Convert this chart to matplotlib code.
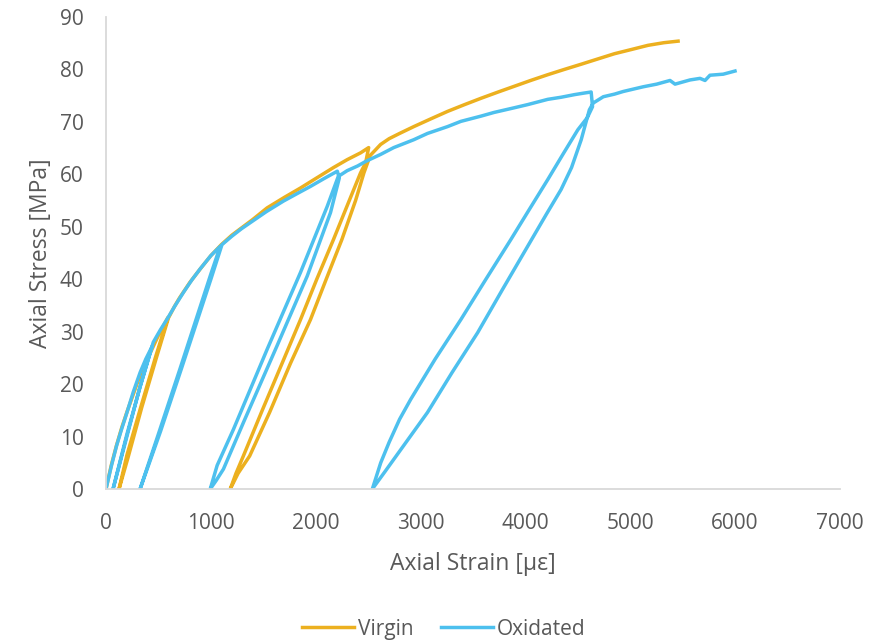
import matplotlib
matplotlib.use("Agg")
import matplotlib.pyplot as plt

# strain in micro-strain, stress in MPa
virgin_strain = [
    0, 50, 100, 150, 200, 300, 400, 500, 590,
    470, 330, 200, 124,
    210, 340, 480, 595,
    650, 700, 800, 900, 1000, 1100, 1200, 1300, 1400, 1536, 1700, 1855, 2000,
    2170, 2300, 2428, 2505,
    2476, 2428, 2320, 2170, 2010, 1855, 1680, 1490, 1310, 1240, 1185,
    1260, 1370, 1560, 1760, 1950, 2100, 2250, 2380, 2460, 2520,
    2619, 2700, 2800, 2935, 3100, 3257, 3420, 3576, 3740, 3895, 4050, 4213,
    4370, 4532, 4690, 4849, 5010, 5169, 5320, 5456,
]
virgin_stress = [
    0, 4.5, 8.3, 11.7, 14.7, 20.3, 25.0, 29.3, 32.7,
    25.0, 15.5, 6.5, 0,
    6.0, 15.5, 25.0, 32.6,
    34.7, 36.4, 39.4, 42.0, 44.5, 46.6, 48.4, 49.9, 51.4, 53.6, 55.6, 57.4, 59.2,
    61.3, 62.8, 64.1, 65.1,
    62.2, 60.3, 55.0, 47.6, 40.0, 32.3, 24.0, 15.0, 6.3, 3.0, 0,
    3.0, 6.3, 14.6, 24.0, 32.3, 40.0, 47.6, 55.0, 60.3, 63.6,
    65.7, 66.8, 67.8, 69.1, 70.6, 72.0, 73.3, 74.5, 75.7, 76.8, 77.9, 79.0,
    80.0, 81.0, 82.0, 83.0, 83.8, 84.6, 85.1, 85.4,
]

oxidated_strain = [
    0, 50, 100, 150, 200, 260, 325, 380, 440,
    330, 200, 67,
    190, 320, 451,
    520, 580, 660, 739, 820, 899, 1000, 1090,
    1000, 707, 500, 325,
    520, 720, 1000, 1106,
    1200, 1290, 1377, 1530, 1692, 1820, 1950, 2080, 2206,
    2225, 2141, 1919, 1631, 1311, 1120, 1050, 994,
    1060, 1216, 1536, 1855, 2110, 2215,
    2300, 2400, 2480, 2619, 2744, 2935, 3066, 3257, 3384, 3576, 3700,
    3895, 4022, 4213, 4340, 4468, 4560, 4627,
    4640, 4590, 4500, 4360, 4213, 4040, 3862, 3620, 3384, 3140, 2906,
    2800, 2700, 2620, 2540,
    2660, 2800, 3066, 3300, 3544, 3780, 4022, 4200, 4340, 4440, 4532, 4610, 4647,
    4743, 4850, 4933, 5124, 5252, 5379, 5427, 5570, 5665, 5713, 5760,
    5887, 5999,
]
oxidated_stress = [
    0, 4.3, 8.2, 11.5, 14.6, 18.5, 22.2, 24.8, 27.2,
    19.8, 10.5, 0,
    9.3, 19.2, 28.0,
    30.4, 32.3, 35.0, 37.5, 39.9, 42.0, 44.5, 46.3,
    41.0, 23.0, 10.5, 0,
    11.0, 23.0, 40.0, 46.6,
    48.2, 49.6, 50.8, 52.9, 54.9, 56.3, 57.7, 59.2, 60.6,
    59.3, 52.7, 40.6, 27.3, 12.7, 3.8, 1.6, 0,
    4.5, 11.4, 26.6, 41.3, 53.9, 59.6,
    60.7, 61.6, 62.5, 63.8, 65.1, 66.6, 67.8, 69.1, 70.1, 71.1, 71.8,
    72.7, 73.3, 74.3, 74.7, 75.2, 75.5, 75.7,
    72.9, 70.8, 68.5, 63.9, 59.0, 53.4, 47.6, 39.9, 32.3, 24.8, 17.1,
    13.3, 8.9, 5.0, 0,
    3.3, 7.2, 14.6, 22.2, 29.8, 38.0, 46.3, 52.4, 57.1, 61.3, 66.6, 72.3, 73.6,
    74.8, 75.3, 75.8, 76.7, 77.2, 77.9, 77.2, 78.0, 78.3, 77.9, 78.9,
    79.1, 79.7,
]

series_labels = ["Virgin", "Oxidated"]

plt.rcParams["font.family"] = ["Open Sans", "DejaVu Sans"]

fig = plt.figure(figsize=(8.79, 6.42), dpi=100)
ax = fig.add_axes([0.1206, 0.2383, 0.8350, 0.7352])

colors = ["#ECB01F", "#4DC0EE"]
ax.plot(virgin_strain, virgin_stress, color=colors[0], lw=2.5, label=series_labels[0],
        solid_joinstyle="round")
ax.plot(oxidated_strain, oxidated_stress, color=colors[1], lw=2.5, label=series_labels[1],
        solid_joinstyle="round")

ax.set_xlim(0, 7000)
ax.set_ylim(0, 90)
ax.set_xticks(range(0, 7001, 1000))
ax.set_yticks(range(0, 91, 10))

for side in ["top", "right"]:
    ax.spines[side].set_visible(False)
for side in ["left", "bottom"]:
    ax.spines[side].set_color("#D9D9D9")
    ax.spines[side].set_linewidth(1.3)

txt = "#595959"
ax.tick_params(axis="both", length=0, labelsize=15, labelcolor=txt)
ax.tick_params(axis="x", pad=17)
ax.tick_params(axis="y", pad=16)

ax.set_xlabel("Axial Strain [µε]", fontsize=16.5, color=txt, labelpad=13)
ax.set_ylabel("Axial Stress [MPa]", fontsize=16.5, color=txt, labelpad=5)

fig.legend(loc="center", bbox_to_anchor=(0.505, 0.02), ncol=2, frameon=False,
           fontsize=15, labelcolor=txt, handlelength=2.5, handletextpad=0.2,
           columnspacing=1.3)

fig.savefig("out.png", dpi=100)
